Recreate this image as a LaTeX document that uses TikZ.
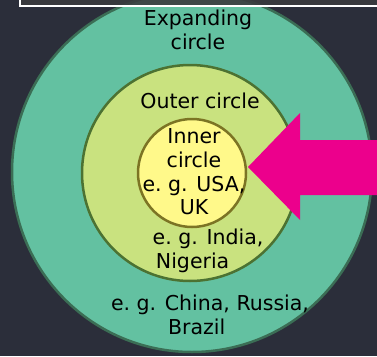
\documentclass[tikz,border=0pt]{standalone}
\usepackage{fontspec}
\setmainfont{DejaVu Sans}
\begin{document}
\begin{tikzpicture}[x=1pt,y=-1pt,
  ring/.style={line width=2.5pt},
  lbl/.style={font=\fontsize{20.5}{23.6}\selectfont, align=center, text=black, inner sep=0pt}]
\definecolor{bg}{HTML}{2B2E3A}
\definecolor{tealc}{HTML}{63C1A1}
\definecolor{tealb}{HTML}{3B6E55}
\definecolor{lgreen}{HTML}{C9E27F}
\definecolor{lgreenb}{HTML}{4C7232}
\definecolor{yel}{HTML}{FFF98A}
\definecolor{yelb}{HTML}{7C7424}
\definecolor{mag}{HTML}{EC008C}
\definecolor{boxc}{HTML}{3A3B3E}
\useasboundingbox (0,0) rectangle (377,356);
\fill[bg] (0,0) rectangle (377,356);
% circles
\draw[ring, fill=tealc, draw=tealb] (192,172) circle[radius=180];
\draw[ring, fill=lgreen, draw=lgreenb] (190,173) circle[radius=108];
\draw[ring, fill=yel, draw=yelb] (192,173) circle[radius=54];
% arrow
\fill[mag] (248,167) -- (300,113) -- (300,140) -- (377,140) -- (377,195) -- (300,195) -- (300,220) -- cycle;
% top box
\fill[boxc, opacity=0.9] (20,-2) rectangle (379,6);
\draw[white, line width=1.8pt] (20,-2) -- (20,6) -- (379,6);
% labels
\node[lbl] (exp) at (198,30) {Expanding\\circle};
\node[lbl] (out) at (200,101) {Outer circle};
\node[lbl] (inn) at (194,172) {Inner\\circle\\e.~g. USA,\\UK};
\node[lbl] (ind) at (208,251) {e.~g. India,\\\hspace*{-1.5em}Nigeria};
\node[lbl] (chi) at (210,315) {e.~g. China, Russia,\\\hspace*{-1.3em}Brazil};
\end{tikzpicture}
\end{document}
